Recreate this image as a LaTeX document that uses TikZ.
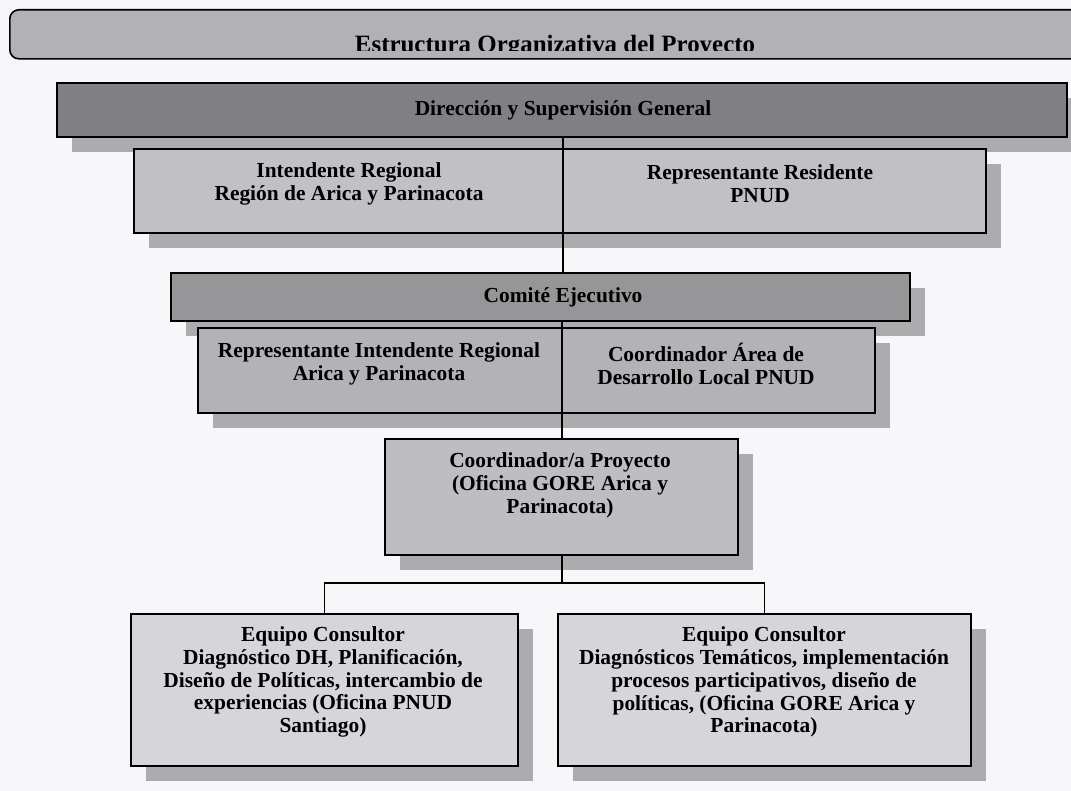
\documentclass[tikz,border=0pt]{standalone}
\usepackage{fontspec}
\setmainfont{Liberation Serif}
\usetikzlibrary{shadows}
\definecolor{bgc}{RGB}{247,247,250}
\definecolor{titlec}{RGB}{178,178,182}
\definecolor{dirc}{RGB}{128,128,132}
\definecolor{intc}{RGB}{192,192,197}
\definecolor{comc}{RGB}{150,150,153}
\definecolor{repc}{RGB}{178,178,183}
\definecolor{coordc}{RGB}{190,190,194}
\definecolor{eqc}{RGB}{214,214,218}
\definecolor{shc}{RGB}{172,172,175}
\tikzset{
 box/.style={draw=black, line width=1.6bp, rectangle, inner sep=0pt, anchor=north west,
   general shadow={fill=shc, shadow xshift=15bp, shadow yshift=-15bp}},
 lbl/.style={font=\bfseries\fontsize{21.5}{23}\selectfont, align=center, inner sep=0pt},
 conn/.style={draw=black, line width=1.4bp},
}
\begin{document}
\begin{tikzpicture}[x=1bp,y=-1bp]
\useasboundingbox (0,0) rectangle (1071,791);
\fill[bgc] (0,0) rectangle (1071,791);
\clip (0,0) rectangle (1071,791);
% title
\node[draw=black, line width=1.6bp, rounded corners=9bp, fill=titlec, minimum width=1090bp, minimum height=49bp, anchor=north west, inner sep=0pt] (title) at (9,9) {};
\begin{scope}
\clip (0,0) rectangle (1071,51);
\node[font=\bfseries\fontsize{25}{28}\selectfont, anchor=base, inner sep=0pt] (titletext) at (555,53) {Estructura Organizativa del Proyecto};
\end{scope}
% boxes
\node[box, fill=dirc, minimum width=1010bp, minimum height=54bp] (dir) at (56,82) {};
\node[box, fill=intc, minimum width=852bp, minimum height=84bp] (int) at (133,148) {};
\node[box, fill=comc, minimum width=739bp, minimum height=48bp] (com) at (170,272) {};
\node[box, fill=repc, minimum width=677bp, minimum height=85bp] (rep) at (197,327) {};
\node[box, fill=coordc, minimum width=353bp, minimum height=116bp] (coord) at (384,438) {};
\node[box, fill=eqc, minimum width=387bp, minimum height=152bp] (eq1) at (130,613) {};
\node[box, fill=eqc, minimum width=413bp, minimum height=152bp] (eq2) at (557,613) {};
% connectors
\coordinate (spine) at (563,0);
\coordinate (spineb) at (562,0);
\coordinate (split) at (562,583);
\draw[conn] (spine |- dir.south) -- (spine |- com.north);
\draw[conn] (spineb |- com.south) -- (spineb |- coord.north);
\draw[conn] (spineb |- coord.south) -- (split);
\draw[conn] (split) -| (eq1.north);
\draw[conn] (split) -| (eq2.north);
% labels
\node[lbl] (dirtext) at (563,110) {Dirección y Supervisión General};
\node[lbl] (intl) at (349,184) {Intendente Regional\\Región de Arica y Parinacota};
\node[lbl] (intr) at (760,184) {Representante Residente\\PNUD};
\node[lbl] (comtext) at (563,297) {Comité Ejecutivo};
\node[lbl] (repl) at (379,364) {Representante Intendente Regional\\Arica y Parinacota};
\node[lbl] (repr) at (706,364) {Coordinador Área de\\Desarrollo Local PNUD};
\node[lbl] (coordtext) at (560,485) {Coordinador/a Proyecto\\(Oficina GORE Arica y\\Parinacota)};
\node[lbl] (eq1text) at (323,682) {Equipo Consultor\\Diagnóstico DH, Planificación,\\Diseño de Políticas, intercambio de\\experiencias (Oficina PNUD\\Santiago)};
\node[lbl] (eq2text) at (764,682) {Equipo Consultor\\Diagnósticos Temáticos, implementación\\procesos participativos, diseño de\\políticas, (Oficina GORE Arica y\\Parinacota)};
\end{tikzpicture}
\end{document}
